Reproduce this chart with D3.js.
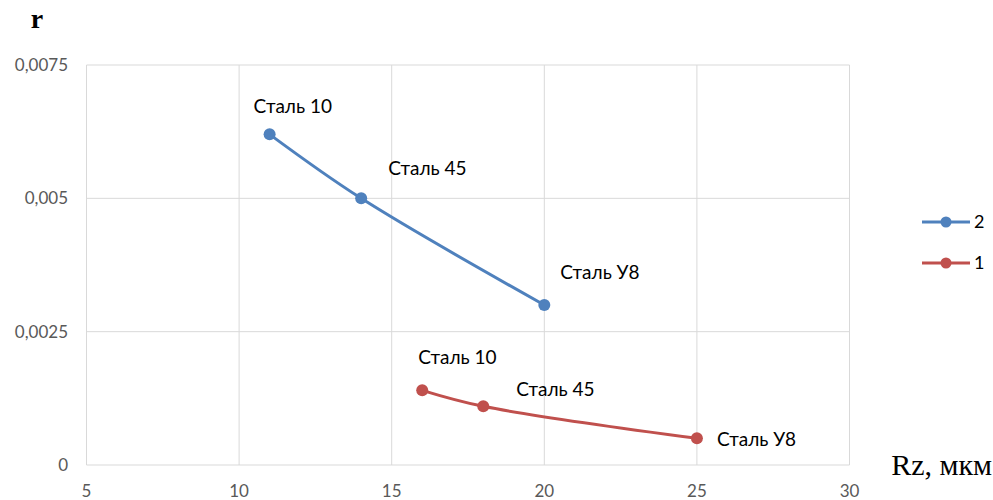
<!DOCTYPE html>
<html><head><meta charset="utf-8">
<script src="https://cdn.jsdelivr.net/npm/d3@7"></script>
<style>body{margin:0;background:#fff}</style>
</head><body>
<svg id="c" width="993" height="500"></svg>
<script>
const labels = ["Сталь 10", "Сталь 45", "Сталь У8"];
const s2x = [11, 14, 20];
const s2y = [0.0062, 0.005, 0.003];
const s1x = [16, 18, 25];
const s1y = [0.0014, 0.0011, 0.0005];
const xTicks = [5, 10, 15, 20, 25, 30];
const yTicks = [0, 0.0025, 0.005, 0.0075];
const yTickLabels = ["0", "0,0025", "0,005", "0,0075"];
const seriesNames = ["2", "1"];
const colors = ["#4f81bd", "#c0504d"];
// label offsets (dx, dy) relative to points, per series
const lblOff2 = [[-16, -28], [27, -30], [16, -33]];
const lblOff1 = [[-4, -33], [33, -17], [20, 1]];

const svg = d3.select("#c");
const x = d3.scaleLinear().domain([5, 30]).range([86.5, 849.5]);
const y = d3.scaleLinear().domain([0, 0.0075]).range([465, 65]);

const g = svg.append("g");
// grid
g.selectAll(".vg").data(xTicks).enter().append("line")
  .attr("x1", d => x(d)).attr("x2", d => x(d)).attr("y1", y(0.0075)).attr("y2", y(0))
  .attr("stroke", "#d9d9d9").attr("stroke-width", 1);
g.selectAll(".hg").data(yTicks).enter().append("line")
  .attr("x1", x(5)).attr("x2", x(30)).attr("y1", d => y(d)).attr("y2", d => y(d))
  .attr("stroke", "#d9d9d9").attr("stroke-width", 1);

// tick labels
g.selectAll(".xt").data(xTicks).enter().append("text")
  .attr("x", d => x(d)).attr("y", 497)
  .attr("text-anchor", "middle").attr("font-family", "Lato, 'Open Sans', sans-serif")
  .attr("font-size", 17).attr("fill", "#595959").text(d => d);
g.selectAll(".yt").data(yTicks).enter().append("text")
  .attr("x", 68).attr("y", d => y(d)).attr("dy", "0.35em")
  .attr("text-anchor", "end").attr("font-family", "Lato, 'Open Sans', sans-serif")
  .attr("font-size", 17).attr("fill", "#595959").text((d, i) => yTickLabels[i]);

// axis titles
svg.append("text").attr("x", 37).attr("y", 28).attr("text-anchor", "middle")
  .attr("font-family", "'Liberation Serif', 'DejaVu Serif', serif").attr("font-size", 28)
  .attr("font-weight", "bold").attr("fill", "#000").text("r");
svg.append("text").attr("x", 992).attr("y", 475).attr("text-anchor", "end")
  .attr("font-family", "'Liberation Serif', 'DejaVu Serif', serif").attr("font-size", 30)
  .attr("fill", "#000").text("Rz, мкм");

const line = d3.line().x(d => x(d[0])).y(d => y(d[1])).curve(d3.curveCatmullRom.alpha(0.5));
const series = [
  {pts: d3.zip(s2x, s2y), color: colors[0], off: lblOff2},
  {pts: d3.zip(s1x, s1y), color: colors[1], off: lblOff1}
];
series.forEach(s => {
  g.append("path").attr("d", line(s.pts)).attr("fill", "none")
    .attr("stroke", s.color).attr("stroke-width", 3).attr("stroke-linecap", "round");
  g.selectAll(null).data(s.pts).enter().append("circle")
    .attr("cx", d => x(d[0])).attr("cy", d => y(d[1])).attr("r", 6).attr("fill", s.color);
  g.selectAll(null).data(s.pts).enter().append("text")
    .attr("x", (d, i) => x(d[0]) + s.off[i][0]).attr("y", (d, i) => y(d[1]) + s.off[i][1])
    .attr("dy", "0.35em").attr("font-family", "Lato, 'Open Sans', sans-serif")
    .attr("font-size", 19).attr("fill", "#000").text((d, i) => labels[i]);
});

// legend
seriesNames.forEach((n, i) => {
  const ly = 222 + i * 41;
  svg.append("line").attr("x1", 922).attr("x2", 970).attr("y1", ly).attr("y2", ly)
    .attr("stroke", colors[i]).attr("stroke-width", 3);
  svg.append("circle").attr("cx", 946).attr("cy", ly).attr("r", 5.5).attr("fill", colors[i]);
  svg.append("text").attr("x", 974).attr("y", ly).attr("dy", "0.36em")
    .attr("font-family", "Lato, 'Open Sans', sans-serif").attr("font-size", 18)
    .attr("fill", "#000").text(n);
});
</script>
</body></html>
